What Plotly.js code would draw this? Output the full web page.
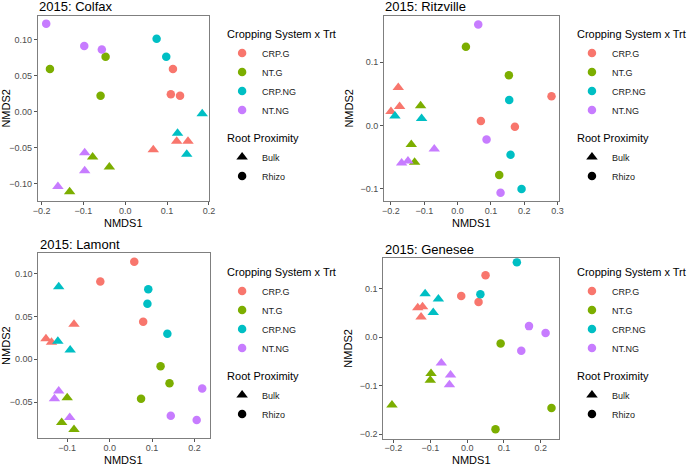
<!DOCTYPE html>
<html><head><meta charset="utf-8">
<script src="https://cdn.plot.ly/plotly-3.0.1.min.js"></script>
<style>html,body{margin:0;padding:0;background:#fff}</style>
</head><body><div id="chart" style="width:696px;height:465px"></div>
<script>
// Treatment categories and colours
const treatments = ['CRP.G', 'NT.G', 'CRP.NG', 'NT.NG'];
const proximities = ['Bulk', 'Rhizo'];
const panelTitles = ['2015: Colfax', '2015: Ritzville', '2015: Lamont', '2015: Genesee'];
const xTitle = 'NMDS1', yTitle = 'NMDS2';

// Colfax
const colfaxTrt  = ['CRP.G','CRP.G','CRP.G','CRP.G','CRP.G','CRP.G','NT.G','NT.G','NT.G','NT.G','NT.G','NT.G','CRP.NG','CRP.NG','CRP.NG','CRP.NG','CRP.NG','NT.NG','NT.NG','NT.NG','NT.NG','NT.NG','NT.NG'];
const colfaxProx = ['Rhizo','Rhizo','Rhizo','Bulk','Bulk','Bulk','Rhizo','Rhizo','Rhizo','Bulk','Bulk','Bulk','Rhizo','Rhizo','Bulk','Bulk','Bulk','Rhizo','Rhizo','Rhizo','Bulk','Bulk','Bulk'];
const colfaxX = [0.114,0.109,0.131,0.067,0.123,0.150,-0.180,-0.047,-0.059,-0.078,-0.038,-0.133,0.075,0.098,0.184,0.125,0.147,-0.189,-0.098,-0.056,-0.097,-0.097,-0.161];
const colfaxY = [0.059,0.024,0.022,-0.053,-0.041,-0.041,0.059,0.076,0.022,-0.063,-0.077,-0.111,0.101,0.076,-0.003,-0.030,-0.059,0.122,0.091,0.086,-0.057,-0.082,-0.104];

// Ritzville
const ritzTrt  = ['CRP.G','CRP.G','CRP.G','CRP.G','CRP.G','CRP.G','NT.G','NT.G','NT.G','NT.G','NT.G','NT.G','CRP.NG','CRP.NG','CRP.NG','CRP.NG','CRP.NG','NT.NG','NT.NG','NT.NG','NT.NG','NT.NG','NT.NG'];
const ritzProx = ['Rhizo','Rhizo','Rhizo','Bulk','Bulk','Bulk','Rhizo','Rhizo','Rhizo','Bulk','Bulk','Bulk','Rhizo','Rhizo','Rhizo','Bulk','Bulk','Rhizo','Rhizo','Rhizo','Bulk','Bulk','Bulk'];
const ritzX = [0.282,0.070,0.172,-0.178,-0.174,-0.200,0.025,0.154,0.125,-0.111,-0.139,-0.129,0.155,0.159,0.192,-0.188,-0.108,0.062,0.087,0.129,-0.070,-0.168,-0.149];
const ritzY = [0.046,0.007,-0.002,0.060,0.030,0.022,0.124,0.079,-0.078,0.031,-0.030,-0.058,0.040,-0.046,-0.100,0.015,0.011,0.159,-0.022,-0.106,-0.037,-0.059,-0.056];

// Lamont
const lamontTrt  = ['CRP.G','CRP.G','CRP.G','CRP.G','CRP.G','CRP.G','NT.G','NT.G','NT.G','NT.G','NT.G','NT.G','CRP.NG','CRP.NG','CRP.NG','CRP.NG','CRP.NG','CRP.NG','NT.NG','NT.NG','NT.NG','NT.NG','NT.NG','NT.NG'];
const lamontProx = ['Rhizo','Rhizo','Rhizo','Bulk','Bulk','Bulk','Rhizo','Rhizo','Rhizo','Bulk','Bulk','Bulk','Rhizo','Rhizo','Rhizo','Bulk','Bulk','Bulk','Rhizo','Rhizo','Rhizo','Bulk','Bulk','Bulk'];
const lamontX = [0.058,-0.022,0.079,-0.084,-0.150,-0.137,0.120,0.141,0.074,-0.100,-0.113,-0.084,0.091,0.089,0.136,-0.120,-0.122,-0.093,0.218,0.144,0.205,-0.120,-0.130,-0.094];
const lamontY = [0.114,0.091,0.044,0.041,0.024,0.020,-0.008,-0.028,-0.046,-0.045,-0.074,-0.082,0.082,0.065,0.030,0.085,0.021,0.011,-0.034,-0.066,-0.071,-0.037,-0.046,-0.068];

// Genesee
const geneseeTrt  = ['CRP.G','CRP.G','CRP.G','CRP.G','CRP.G','CRP.G','NT.G','NT.G','NT.G','NT.G','NT.G','NT.G','CRP.NG','CRP.NG','CRP.NG','CRP.NG','CRP.NG','NT.NG','NT.NG','NT.NG','NT.NG','NT.NG','NT.NG'];
const geneseeProx = ['Rhizo','Rhizo','Rhizo','Bulk','Bulk','Bulk','Rhizo','Rhizo','Rhizo','Bulk','Bulk','Bulk','Rhizo','Rhizo','Bulk','Bulk','Bulk','Rhizo','Rhizo','Rhizo','Bulk','Bulk','Bulk'];
const geneseeX = [0.050,-0.016,0.031,-0.134,-0.121,-0.125,0.091,0.229,0.077,-0.098,-0.100,-0.204,0.135,0.036,-0.114,-0.078,-0.092,0.168,0.213,0.147,-0.070,-0.045,-0.048];
const geneseeY = [0.128,0.085,0.073,0.061,0.063,0.042,-0.013,-0.146,-0.190,-0.075,-0.089,-0.140,0.155,0.089,0.090,0.079,0.051,0.023,0.009,-0.028,-0.053,-0.078,-0.098];

const colors = {'CRP.G':'#F8766D','NT.G':'#7CAE00','CRP.NG':'#00BFC4','NT.NG':'#C77CFF'};
const symbols = {'Bulk':'triangle-up','Rhizo':'circle'};
const sizes = {'Bulk':10,'Rhizo':8.5};

const panels = [
  {trt:colfaxTrt, prox:colfaxProx, x:colfaxX, y:colfaxY},
  {trt:ritzTrt, prox:ritzProx, x:ritzX, y:ritzY},
  {trt:lamontTrt, prox:lamontProx, x:lamontX, y:lamontY},
  {trt:geneseeTrt, prox:geneseeProx, x:geneseeX, y:geneseeY}
];

const W = 696, H = 465;
// plot-area pixel boxes [left, right, top, bottom]
const boxes = [[38.5,213,15.7,201],[390.7,569,15.7,201],[39,213.3,253.3,438],[390,569.3,258.3,438.5]];
const xRanges = [[-0.209,0.201],[-0.221,0.305],[-0.168,0.2355],[-0.2276,0.2507]];
const yRanges = [[-0.124,0.133],[-0.119,0.173],[-0.092,0.124],[-0.209,0.163]];
const xFmt = ['.1f','.1f','.1f','.1f'], yFmt = ['.2f','.1f','.2f','.1f'];
const yDt = [0.05,0.1,0.05,0.1];
const legendPos = [[226,19.5],[582,19.5],[226,257.5],[582,257.5]];
const xTitleY = [223, 223, 460.3, 460.3];

const font = 'Liberation Sans, Arial, sans-serif';
const traces = [];
const layout = {
  width: W, height: H, margin:{l:0,r:0,t:0,b:0},
  paper_bgcolor:'#fff', plot_bgcolor:'#fff',
  font:{family:font, color:'#000'},
  annotations: [], showlegend:true
};

panels.forEach((p, i) => {
  const n = i + 1;
  const xa = 'x' + (n===1?'':n), ya = 'y' + (n===1?'':n);
  const lg = 'legend' + (n===1?'':n);
  treatments.forEach(t => {
    proximities.forEach(pr => {
      const xs = [], ys = [];
      p.trt.forEach((tt, k) => { if (tt===t && p.prox[k]===pr) { xs.push(p.x[k]); ys.push(p.y[k]); } });
      traces.push({type:'scatter', mode:'markers', x:xs, y:ys, xaxis:xa, yaxis:ya,
        name:t+' '+pr, showlegend:false, hoverinfo:'x+y+name',
        marker:{color:colors[t], symbol:symbols[pr], size:sizes[pr], line:{width:0}}});
    });
  });
  // legend entries
  treatments.forEach((t, k) => {
    traces.push({type:'scatter', mode:'markers', x:[null], y:[null], xaxis:xa, yaxis:ya,
      name:t, legend:lg, legendgroup:'trt'+n,
      legendgrouptitle: k===0 ? {text:'Cropping System x Trt', font:{size:11, color:'#000'}} : undefined,
      marker:{color:colors[t], symbol:'circle', size:8.5}});
  });
  proximities.forEach((pr, k) => {
    traces.push({type:'scatter', mode:'markers', x:[null], y:[null], xaxis:xa, yaxis:ya,
      name:pr, legend:lg, legendgroup:'prox'+n,
      legendgrouptitle: k===0 ? {text:'Root Proximity', font:{size:11, color:'#000'}} : undefined,
      marker:{color:'#000', symbol:symbols[pr], size:sizes[pr]}});
  });

  const b = boxes[i];
  layout['xaxis' + (n===1?'':n)] = {
    domain:[b[0]/W, b[1]/W], anchor:ya, range:xRanges[i], dtick:0.1, tick0:0, tickformat:xFmt[i],
    showline:true, mirror:true, linecolor:'#7f7f7f', linewidth:1, showgrid:false, zeroline:false,
    ticks:'outside', ticklen:3, tickcolor:'#555', tickwidth:1, ticklabelstandoff:-2,
    tickfont:{size:9, color:'#4d4d4d', family:font}
  };
  layout['yaxis' + (n===1?'':n)] = {
    domain:[1 - b[3]/H, 1 - b[2]/H], anchor:xa, range:yRanges[i], dtick:yDt[i], tick0:0, tickformat:yFmt[i],
    showline:true, mirror:true, linecolor:'#7f7f7f', linewidth:1, showgrid:false, zeroline:false,
    ticks:'outside', ticklen:3, tickcolor:'#555', tickwidth:1,
    tickfont:{size:9, color:'#4d4d4d', family:font},
    title:{text:yTitle, font:{size:11, color:'#000', family:font}, standoff:4}
  };
  layout[lg] = {
    x: legendPos[i][0]/W, y: 1 - legendPos[i][1]/H, xanchor:'left', yanchor:'top',
    bgcolor:'rgba(0,0,0,0)', borderwidth:0, tracegroupgap:9,
    font:{size:9, color:'#1a1a1a', family:font}
  };
  layout.annotations.push({text:panelTitles[i], xref:'paper', yref:'paper',
    x:(b[0]+0.5)/W, y:1 - (b[2]-9)/H, xanchor:'left', yanchor:'middle', showarrow:false,
    borderpad:0, font:{size:13, color:'#000', family:font}});
  // x-axis title, centred under its panel
  layout.annotations.push({text:xTitle, xref:'paper', yref:'paper',
    x:(b[0]+b[1])/2/W, y:1 - xTitleY[i]/H, xanchor:'center', yanchor:'middle', showarrow:false,
    borderpad:0, font:{size:11, color:'#000', family:font}});
});

Plotly.newPlot('chart', traces, layout, {staticPlot:true});
</script></body></html>
